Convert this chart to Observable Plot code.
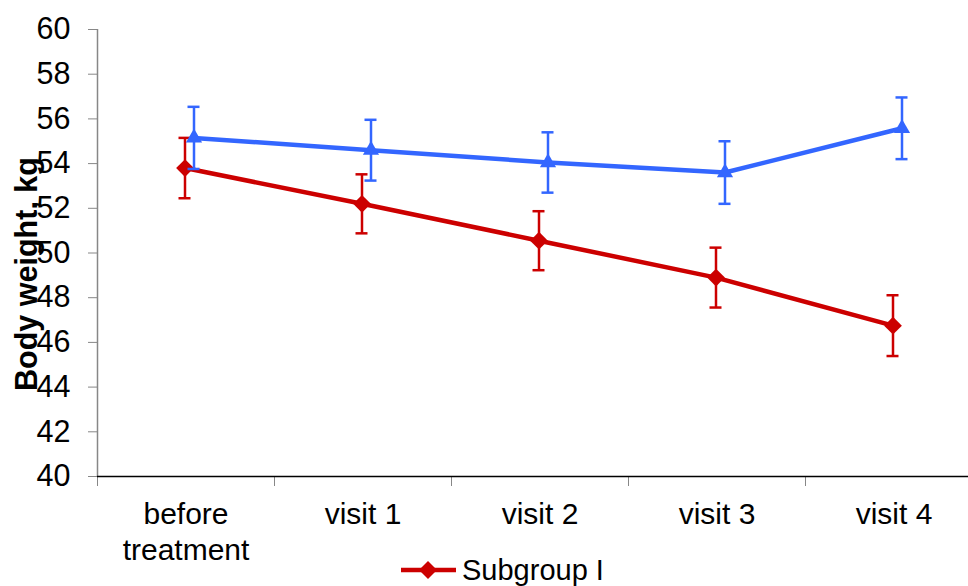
<!DOCTYPE html>
<html><head><meta charset="utf-8">
<script src="https://cdn.jsdelivr.net/npm/d3@7"></script>
<script src="https://cdn.jsdelivr.net/npm/@observablehq/plot@0.6"></script>
<style>
html,body{margin:0;padding:0;background:#fff;overflow:hidden}
#wrap{width:968px;height:586px;overflow:hidden;position:relative;font-family:"Liberation Sans",Arial,sans-serif}
#legend{position:absolute;left:400px;top:554px;height:32px;line-height:32px;display:flex;align-items:center;font-size:29px;white-space:nowrap;color:#000}
#legend svg{margin-right:4px}
</style></head><body><div id="wrap"></div>
<script>
const categories = ["before\ntreatment", "visit 1", "visit 2", "visit 3", "visit 4"];
const subgroupI = [53.8, 52.2, 50.55, 48.9, 46.75];
const subgroupIErr = [1.35, 1.32, 1.32, 1.34, 1.36];
const subgroupII = [55.15, 54.6, 54.05, 53.6, 55.58];
const subgroupIIErr = [1.39, 1.36, 1.35, 1.4, 1.38];
const yTicks = [40, 42, 44, 46, 48, 50, 52, 54, 56, 58, 60];
const seriesNames = ["Subgroup I"];

const red = "#CC0000", blue = "#3366FF";
const rows = categories.map((c, i) => ({
  i: i + 0.5, cat: c,
  s1: subgroupI[i], e1: subgroupIErr[i],
  s2: subgroupII[i], e2: subgroupIIErr[i]
}));
const centers = rows.map(d => d.i);
const bounds = d3.range(categories.length + 1);

function series(key, ekey, color, dx, symbol, r) {
  return [
    Plot.line(rows, {x: "i", y: key, stroke: color, strokeWidth: 4.5, dx}),
    Plot.ruleX(rows, {x: "i", y1: d => d[key] - d[ekey], y2: d => d[key] + d[ekey], stroke: color, strokeWidth: 2.5, dx}),
    Plot.ruleY(rows, {x1: "i", x2: "i", y: d => d[key] + d[ekey], insetLeft: -6, insetRight: -6, stroke: color, strokeWidth: 2.5, dx}),
    Plot.ruleY(rows, {x1: "i", x2: "i", y: d => d[key] - d[ekey], insetLeft: -6, insetRight: -6, stroke: color, strokeWidth: 2.5, dx}),
    Plot.dot(rows, {x: "i", y: key, symbol, r, fill: color, stroke: "none", dx})
  ];
}

const chart = Plot.plot({
  width: 968, height: 555,
  marginLeft: 97, marginRight: 0, marginTop: 29, marginBottom: 79,
  style: {fontFamily: "Liberation Sans, Arial, sans-serif", background: "white", color: "black", overflow: "visible"},
  x: {domain: [0, categories.length], range: [97, 982]},
  y: {domain: [40, 60]},
  marks: [
    Plot.ruleX([0], {stroke: "#878787", strokeWidth: 1.5}),
    Plot.axisY(yTicks, {tickSize: 9, tickPadding: 18, fontSize: 30.5, stroke: "#878787", label: null}),
    Plot.axisX(bounds, {tickSize: 10, tickFormat: () => "", stroke: "#878787", label: null}),
    Plot.axisX(centers, {tickSize: 0, tickPadding: 22, fontSize: 30, lineHeight: 1.2, tickFormat: d => categories[Math.floor(d)], label: null}),
    Plot.ruleY([40], {stroke: "black", strokeWidth: 1.5}),
    ...series("s1", "e1", red, -1, "diamond2", 8),
    ...series("s2", "e2", blue, 8, "triangle", 6),
    Plot.text(["Body weight, kg"], {frameAnchor: "left", rotate: -90, dx: -70, dy: 21, fontSize: 30.5, fontWeight: "bold", textAnchor: "middle", fill: "black"})
  ]
});
const wrap = document.getElementById("wrap");
wrap.appendChild(chart);

const legend = document.createElement("div");
legend.id = "legend";
legend.innerHTML = `<svg width="58" height="20" viewBox="0 0 58 20"><line x1="1" y1="10" x2="56" y2="10" stroke="${red}" stroke-width="4.5"/><polygon points="28,1 37,10 28,19 19,10" fill="${red}"/></svg><span>${seriesNames[0]}</span>`;
wrap.appendChild(legend);
</script></body></html>
